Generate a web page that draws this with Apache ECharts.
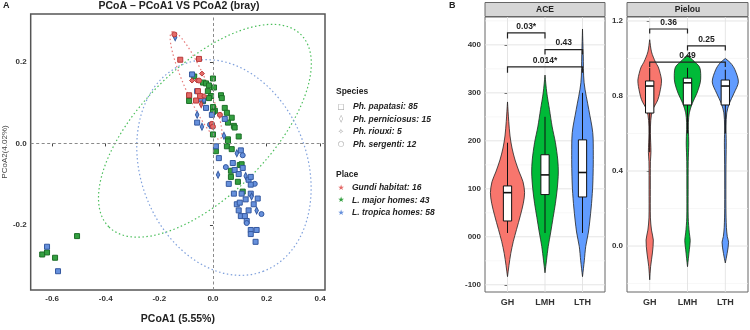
<!DOCTYPE html>
<html>
<head>
<meta charset="utf-8">
<script src="https://cdn.jsdelivr.net/npm/echarts@6/dist/echarts.min.js"></script>
<style>
  html, body { margin: 0; padding: 0; background: #fff; }
  #main { width: 750px; height: 330px; }
</style>
</head>
<body>
<div id="main"></div>
<script>
(function () {
    "use strict";

    /*---- panel A: PCoA ----*/
    var pcoaXTicks = [-0.6, -0.4, -0.2, 0, 0.2, 0.4];
    var pcoaYTicks = [-0.2, 0, 0.2];
    var speciesNames = ['Ph. papatasi: 85', 'Ph. perniciosus: 15', 'Ph. riouxi: 5', 'Ph. sergenti: 12'];
    var placeNames = ['Gundi habitat: 16', 'L. major homes: 43', 'L. tropica homes: 58'];

    // [PCoA1, PCoA2, species index]
    var gundiPoints = [
        [-0.144, 0.267, 3], [-0.122, 0.205, 0], [-0.052, 0.207, 0], [-0.041, 0.171, 2],
        [-0.078, 0.154, 2], [-0.059, 0.154, 2], [-0.052, 0.154, 3], [-0.056, 0.128, 0],
        [-0.089, 0.118, 0], [-0.048, 0.116, 0], [-0.033, 0.116, 2], [-0.044, 0.096, 1],
        [0.026, 0.070, 3], [-0.004, 0.048, 3], [0.0, 0.041, 3], [-0.063, 0.105, 0]
    ];
    var majorPoints = [
        [-0.070, 0.164, 0], [-0.037, 0.149, 0], [-0.026, 0.147, 0], [-0.015, 0.142, 0],
        [0.0, 0.159, 0], [0.004, 0.137, 0], [-0.019, 0.128, 0], [-0.007, 0.116, 0],
        [-0.015, 0.111, 0], [0.030, 0.118, 0], [0.033, 0.111, 0], [-0.089, 0.116, 0],
        [-0.089, 0.104, 0], [-0.037, 0.104, 0], [0.0, 0.089, 0], [0.007, 0.080, 0],
        [0.0, 0.077, 0], [0.044, 0.087, 0], [0.052, 0.075, 0], [0.070, 0.063, 0],
        [0.056, 0.051, 0], [0.078, 0.043, 0], [0.081, 0.039, 0], [0.0, 0.022, 0],
        [0.056, 0.010, 0], [0.056, 0.005, 0], [0.096, 0.017, 0], [0.011, -0.019, 0],
        [0.052, -0.007, 0], [0.070, -0.014, 0], [0.100, -0.053, 0], [0.107, -0.051, 0],
        [0.067, -0.067, 0], [0.067, -0.082, 0], [0.093, -0.094, 0], [0.111, -0.118, 0],
        [-0.507, -0.227, 0], [-0.637, -0.272, 0], [-0.619, -0.267, 0], [-0.589, -0.280, 0]
    ];
    var tropicaPoints = [
        [-0.141, 0.260, 1], [-0.078, 0.169, 0], [-0.059, 0.128, 0], [-0.044, 0.108, 0],
        [-0.033, 0.106, 1], [-0.026, 0.087, 0], [-0.059, 0.070, 1], [-0.004, 0.070, 0],
        [0.044, 0.060, 0], [-0.059, 0.051, 0], [-0.041, 0.041, 1], [-0.011, 0.046, 3],
        [-0.004, 0.043, 0], [0.041, 0.019, 1], [0.011, -0.007, 0], [0.104, -0.017, 0],
        [0.111, -0.029, 3], [0.089, -0.024, 1], [0.022, -0.036, 0], [0.048, -0.058, 3],
        [0.081, -0.065, 0], [0.111, -0.060, 0], [0.019, -0.077, 1], [0.096, -0.075, 0],
        [0.122, -0.080, 1], [0.059, -0.099, 0], [0.133, -0.089, 0], [0.141, -0.082, 0],
        [0.156, -0.099, 3], [0.141, -0.101, 0], [0.078, -0.123, 0], [0.107, -0.123, 0],
        [0.141, -0.123, 0], [0.144, -0.130, 1], [0.122, -0.137, 0], [0.167, -0.135, 0],
        [0.089, -0.149, 0], [0.100, -0.145, 0], [0.152, -0.149, 0], [0.096, -0.164, 0],
        [0.133, -0.164, 0], [0.163, -0.164, 1], [0.181, -0.173, 3], [0.104, -0.178, 0],
        [0.119, -0.178, 0], [0.126, -0.190, 0], [0.126, -0.195, 3], [0.141, -0.212, 0],
        [0.141, -0.222, 0], [0.163, -0.212, 0], [0.159, -0.241, 0], [0.074, -0.048, 0],
        [-0.619, -0.253, 0], [-0.578, -0.313, 0]
    ];

    // confidence ellipses: [centre x, centre y, semi-major, semi-minor, angle in degrees]
    var gundiEllipse = [-0.063, 0.142, 0.219, 0.041, -66];
    var majorEllipse = [-0.030, 0.031, 0.507, 0.241, 45];
    var tropicaEllipse = [0.041, -0.059, 0.414, 0.310, 111];

    /*---- panel B: alpha diversity ----*/
    var groups = ['GH', 'LMH', 'LTH'];
    var groupPos = [0, 1, 2];
    var aceTicks = [-100, 0, 100, 200, 300, 400];
    var aceMinor = [-50, 50, 150, 250, 350, 450];
    var pielouTicks = [0, 0.4, 0.8, 1.2];
    var pielouMinor = [-0.2, 0.2, 0.6, 1.0];

    // violin outlines: [value, relative half width]
    var aceGH = [[-83, 0], [-60, 0.08], [-35, 0.18], [-10, 0.32], [15, 0.5], [45, 0.72], [70, 0.88],
        [92, 0.95], [115, 0.86], [135, 0.65], [160, 0.42], [185, 0.25], [210, 0.14], [240, 0.07], [281, 0]];
    var aceLMH = [[-75, 0], [-50, 0.08], [-20, 0.18], [10, 0.32], [40, 0.45], [70, 0.58], [100, 0.68],
        [133, 0.74], [160, 0.71], [196, 0.58], [229, 0.4], [265, 0.25], [300, 0.1], [337, 0]];
    var aceLTH = [[-83, 0], [-50, 0.1], [-20, 0.18], [10, 0.33], [60, 0.48], [100, 0.56], [133, 0.59],
        [170, 0.6], [217, 0.57], [265, 0.35], [321, 0.09], [380, 0.04], [433, 0]];
    var pielouGH = [[-0.18, 0], [-0.11, 0.05], [-0.037, 0.15], [0.032, 0.2], [0.085, 0.1], [0.15, 0.04],
        [0.3, 0.035], [0.45, 0.04], [0.5, 0.07], [0.6, 0.04], [0.67, 0.06], [0.725, 0.16], [0.78, 0.45],
        [0.85, 0.62], [0.885, 0.65], [0.92, 0.58], [0.955, 0.47], [0.98, 0.32], [1.035, 0.1], [1.10, 0]];
    var pielouLMH = [[-0.11, 0], [-0.02, 0.1], [0.03, 0.15], [0.07, 0.1], [0.15, 0.04], [0.3, 0.035],
        [0.45, 0.04], [0.55, 0.07], [0.62, 0.05], [0.66, 0.05], [0.71, 0.1], [0.76, 0.26], [0.815, 0.52],
        [0.87, 0.7], [0.91, 0.73], [0.955, 0.66], [0.99, 0.3], [1.02, 0]];
    var pielouLTH = [[-0.09, 0], [-0.04, 0.1], [0.02, 0.18], [0.05, 0.11], [0.1, 0.06], [0.2, 0.035],
        [0.4, 0.035], [0.55, 0.05], [0.64, 0.04], [0.71, 0.08], [0.76, 0.22], [0.815, 0.48],
        [0.875, 0.72], [0.94, 0.53], [0.975, 0.3], [1.0, 0]];

    // boxes: [group index, lower whisker, Q1, median, Q3, upper whisker]
    var aceBoxes = [[0, 8, 33, 92, 106, 196], [1, 8, 88, 129, 171, 250], [2, 8, 83, 134, 202, 300]];
    var pielouBoxes = [[0, 0.5, 0.709, 0.853, 0.88, 0.95], [1, 0.6, 0.752, 0.87, 0.895, 0.95],
        [2, 0.6, 0.752, 0.853, 0.885, 0.94]];

    // significance brackets: [from group, to group, bar value, tip value]
    var aceBrackets = [[0, 1, 425, 413], [1, 2, 390, 380], [0, 2, 354, 342]];
    var aceBracketLabels = ['0.03*', '0.43', '0.014*'];
    var pielouBrackets = [[0, 1, 1.157, 1.133], [1, 2, 1.067, 1.043], [0, 2, 0.98, 0.955]];
    var pielouBracketLabels = ['0.36', '0.25', '0.49'];

    var font = "'Liberation Sans', Arial, sans-serif";
    var placeColors = ['#e46a68', '#34a041', '#6690dc'];
    var placeBorders = ['#b83a3a', '#1c6e27', '#34589f'];
    var ellipseColors = ['#e67a7a', '#4cbf5c', '#7fa0dc'];
    var violinColors = ['#F8766D', '#00BA38', '#619CFF'];
    var speciesSymbol = ['rect', 'diamond', 'diamond', 'circle'];
    var speciesSize = [5, [3.5, 7], 5, 5];
    var speciesGlyph = ['\u25A1', '\u25CA', '\u2727', '\u25CB'];

    function renderEllipse(params, api) {
        var c = api.coord([api.value(0), api.value(1)]);
        var unit = api.size([1, 0])[0];
        return {
            type: 'ellipse',
            x: c[0], y: c[1],
            rotation: api.value(4) * Math.PI / 180,
            shape: { cx: 0, cy: 0, rx: api.value(2) * unit, ry: api.value(3) * unit },
            style: { fill: null, stroke: ellipseColors[params.dataIndex], lineWidth: 1.2, lineDash: [1.5, 2.5] },
            silent: true
        };
    }

    function placeSeries(points, idx) {
        return {
            type: 'scatter', xAxisIndex: 0, yAxisIndex: 0, z: 3,
            data: points.map(function (p) {
                return { value: [p[0], p[1]], symbol: speciesSymbol[p[2]], symbolSize: speciesSize[p[2]] };
            }),
            itemStyle: { color: placeColors[idx], borderColor: placeBorders[idx], borderWidth: 1, opacity: 1 },
            silent: true
        };
    }

    function violinRender(profiles) {
        return function (params, api) {
            var prof = profiles[params.dataIndex];
            var half = api.size([1, 0])[0] / 2 * 0.96;
            var right = [], left = [];
            prof.forEach(function (p) {
                var pt = api.coord([api.value(0), p[0]]);
                right.push([pt[0] + p[1] * half, pt[1]]);
                left.unshift([pt[0] - p[1] * half, pt[1]]);
            });
            return {
                type: 'polygon',
                shape: { points: right.concat(left), smooth: 0.3 },
                style: { fill: violinColors[params.dataIndex], stroke: '#222', lineWidth: 0.8 }
            };
        };
    }

    function renderBox(params, api) {
        var cat = api.value(0);
        var w = api.size([1, 0])[0] * 0.11;
        var lo = api.coord([cat, api.value(1)]);
        var q1 = api.coord([cat, api.value(2)]);
        var med = api.coord([cat, api.value(3)]);
        var q3 = api.coord([cat, api.value(4)]);
        var hi = api.coord([cat, api.value(5)]);
        var stroke = { stroke: '#111', lineWidth: 1 };
        return {
            type: 'group',
            children: [
                { type: 'line', shape: { x1: lo[0], y1: lo[1], x2: q1[0], y2: q1[1] }, style: stroke },
                { type: 'line', shape: { x1: q3[0], y1: q3[1], x2: hi[0], y2: hi[1] }, style: stroke },
                { type: 'rect', shape: { x: q3[0] - w, y: q3[1], width: 2 * w, height: q1[1] - q3[1] },
                  style: { fill: '#fff', stroke: '#111', lineWidth: 1 } },
                { type: 'line', shape: { x1: med[0] - w, y1: med[1], x2: med[0] + w, y2: med[1] },
                  style: { stroke: '#111', lineWidth: 1.6 } }
            ]
        };
    }

    function bracketRender(labels) {
        return function (params, api) {
            var a = api.coord([api.value(0), api.value(2)]);
            var b = api.coord([api.value(1), api.value(2)]);
            var ta = api.coord([api.value(0), api.value(3)]);
            var tb = api.coord([api.value(1), api.value(3)]);
            return {
                type: 'group',
                children: [
                    { type: 'polyline', shape: { points: [ta, a, b, tb] },
                      style: { fill: null, stroke: '#222', lineWidth: 1.2 } },
                    { type: 'text', x: (a[0] + b[0]) / 2, y: a[1] - 2,
                      style: { text: labels[params.dataIndex], fill: '#222', font: 'bold 8.5px ' + font,
                               textAlign: 'center', textVerticalAlign: 'bottom' } }
                ]
            };
        };
    }

    // background grid of the facet panels
    function gridLineSeries(xi, values, color, width, vertical) {
        return {
            type: 'custom', xAxisIndex: xi, yAxisIndex: xi, z: 1, silent: true,
            data: values.map(function (v) { return vertical ? [v, 0] : [0, v]; }),
            renderItem: function (params, api) {
                var cs = params.coordSys;
                var p = api.coord([api.value(0), api.value(1)]);
                var shape = vertical
                    ? { x1: p[0], y1: cs.y, x2: p[0], y2: cs.y + cs.height }
                    : { x1: cs.x, y1: p[1], x2: cs.x + cs.width, y2: p[1] };
                return { type: 'line', shape: shape, style: { stroke: color, lineWidth: width } };
            }
        };
    }

    function valueAxis(grid, min, max, ticks, fmt) {
        return {
            type: 'value', gridIndex: grid, min: min, max: max,
            splitLine: { show: false },
            axisLine: { show: false },
            axisTick: { show: true, length: 3, customValues: ticks, lineStyle: { color: '#444' } },
            axisLabel: { customValues: ticks, formatter: fmt, fontWeight: 'bold', fontSize: 8,
                         color: '#333', margin: 4, fontFamily: font }
        };
    }

    // discrete group axis laid out like ggplot (0.6 expansion on both sides)
    function groupAxis(grid) {
        var ax = valueAxis(grid, -0.6, 2.6, groupPos, function (v) { return groups[Math.round(v)]; });
        ax.axisLabel.fontSize = 9;
        ax.axisLabel.margin = 6;
        return ax;
    }

    function fixed1(v) { return v.toFixed(1); }

    var pcoaX = valueAxis(0, -0.68, 0.418, pcoaXTicks, fixed1);
    pcoaX.name = 'PCoA1 (5.55%)';
    pcoaX.nameLocation = 'middle';
    pcoaX.nameGap = 24;
    pcoaX.nameTextStyle = { fontWeight: 'bold', fontSize: 10.5, color: '#222', fontFamily: font };
    pcoaX.axisLabel.margin = 5;
    var pcoaY = valueAxis(0, -0.359, 0.317, pcoaYTicks, fixed1);
    pcoaY.name = 'PCoA2(4.02%)';
    pcoaY.nameLocation = 'middle';
    pcoaY.nameGap = 18;
    pcoaY.nameTextStyle = { fontSize: 8, color: '#444', fontFamily: font };

    var legendItems = [];
    legendItems.push({ type: 'text', x: 336, y: 92, style: { text: 'Species', font: 'bold 8.5px ' + font, fill: '#222', textVerticalAlign: 'middle' } });
    speciesNames.forEach(function (n, i) {
        var y = 107 + i * 12.5;
        legendItems.push({ type: 'text', x: 341, y: y, style: { text: speciesGlyph[i], font: '7.5px DejaVu Sans', fill: '#999', textAlign: 'center', textVerticalAlign: 'middle' } });
        legendItems.push({ type: 'text', x: 353, y: y, style: { text: n, font: 'italic bold 8.5px ' + font, fill: '#222', textVerticalAlign: 'middle' } });
    });
    legendItems.push({ type: 'text', x: 336, y: 175, style: { text: 'Place', font: 'bold 8.5px ' + font, fill: '#222', textVerticalAlign: 'middle' } });
    placeNames.forEach(function (n, i) {
        var y = 188 + i * 12.3;
        legendItems.push({ type: 'text', x: 341, y: y, style: { text: '\u2605', font: '7.5px DejaVu Sans', fill: placeColors[i], textAlign: 'center', textVerticalAlign: 'middle' } });
        legendItems.push({ type: 'text', x: 352, y: y, style: { text: n, font: 'italic bold 8.5px ' + font, fill: '#222', textVerticalAlign: 'middle' } });
    });

    var option = {
        animation: false,
        textStyle: { fontFamily: font },
        grid: [
            { left: 28, top: 14, width: 297, height: 280, show: true, borderColor: '#555', borderWidth: 1.5 },
            { left: 485, top: 17, width: 120, height: 275, show: true, borderColor: '#666', borderWidth: 1 },
            { left: 627, top: 17, width: 121, height: 275, show: true, borderColor: '#666', borderWidth: 1 }
        ],
        xAxis: [pcoaX, groupAxis(1), groupAxis(2)],
        yAxis: [
            pcoaY,
            valueAxis(1, -115, 458, aceTicks, function (v) { return v === 0 ? '000' : String(v); }),
            valueAxis(2, -0.245, 1.221, pielouTicks, fixed1)
        ],
        graphic: [
            { type: 'text', x: 3, y: 6, style: { text: 'A', font: 'bold 9px ' + font, fill: '#222', textVerticalAlign: 'middle' } },
            { type: 'text', x: 179, y: 6, style: { text: 'PCoA \u2013 PCoA1 VS PCoA2 (bray)', font: 'bold 10.5px ' + font, fill: '#222', textAlign: 'center', textVerticalAlign: 'middle' } },
            { type: 'text', x: 449, y: 6, style: { text: 'B', font: 'bold 9px ' + font, fill: '#222', textVerticalAlign: 'middle' } },
            { type: 'rect', shape: { x: 485, y: 2.5, width: 120, height: 14 }, style: { fill: '#d6d6d6', stroke: '#666', lineWidth: 1 } },
            { type: 'text', x: 545, y: 9.5, style: { text: 'ACE', font: 'bold 8.5px ' + font, fill: '#222', textAlign: 'center', textVerticalAlign: 'middle' } },
            { type: 'rect', shape: { x: 627, y: 2.5, width: 121, height: 14 }, style: { fill: '#d6d6d6', stroke: '#666', lineWidth: 1 } },
            { type: 'text', x: 687.5, y: 9.5, style: { text: 'Pielou', font: 'bold 8.5px ' + font, fill: '#222', textAlign: 'center', textVerticalAlign: 'middle' } }
        ].concat(legendItems),
        series: [
            {
                type: 'custom', xAxisIndex: 0, yAxisIndex: 0, z: 2,
                data: [gundiEllipse, majorEllipse, tropicaEllipse],
                renderItem: renderEllipse,
                markLine: {
                    silent: true, symbol: 'none', label: { show: false },
                    lineStyle: { color: '#8a8a8a', type: [3, 2.5], width: 1 },
                    data: [{ xAxis: 0 }, { yAxis: 0 }]
                }
            },
            placeSeries(majorPoints, 1),
            placeSeries(tropicaPoints, 2),
            placeSeries(gundiPoints, 0),

            gridLineSeries(1, aceMinor, '#f2f2f2', 0.6, false),
            gridLineSeries(1, aceTicks, '#e2e2e2', 0.9, false),
            gridLineSeries(1, groupPos, '#e2e2e2', 0.9, true),
            { type: 'custom', xAxisIndex: 1, yAxisIndex: 1, z: 3, data: [[0, 0], [1, 0], [2, 0]],
              renderItem: violinRender([aceGH, aceLMH, aceLTH]) },
            { type: 'custom', xAxisIndex: 1, yAxisIndex: 1, z: 4, data: aceBoxes, renderItem: renderBox },
            { type: 'custom', xAxisIndex: 1, yAxisIndex: 1, z: 4, data: aceBrackets, renderItem: bracketRender(aceBracketLabels) },

            gridLineSeries(2, pielouMinor, '#f2f2f2', 0.6, false),
            gridLineSeries(2, pielouTicks, '#e2e2e2', 0.9, false),
            gridLineSeries(2, groupPos, '#e2e2e2', 0.9, true),
            { type: 'custom', xAxisIndex: 2, yAxisIndex: 2, z: 3, data: [[0, 0], [1, 0], [2, 0]],
              renderItem: violinRender([pielouGH, pielouLMH, pielouLTH]) },
            { type: 'custom', xAxisIndex: 2, yAxisIndex: 2, z: 4, data: pielouBoxes, renderItem: renderBox },
            { type: 'custom', xAxisIndex: 2, yAxisIndex: 2, z: 4, data: pielouBrackets, renderItem: bracketRender(pielouBracketLabels) }
        ]
    };

    var chart = echarts.init(document.getElementById('main'), null, { renderer: 'canvas' });
    chart.setOption(option);
})();
</script>
</body>
</html>
